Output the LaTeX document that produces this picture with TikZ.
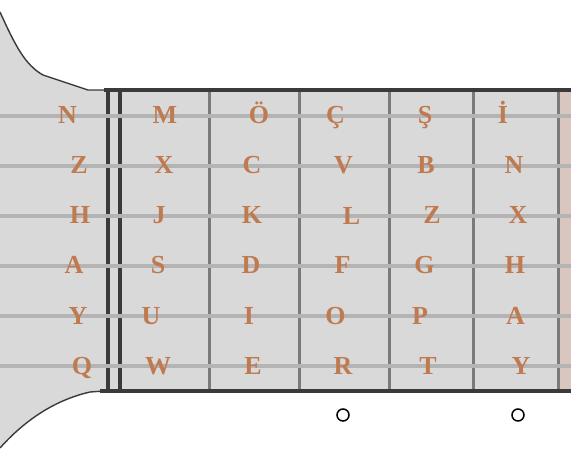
\documentclass[tikz,border=0pt]{standalone}
\usepackage{fontspec}
\setmainfont{Liberation Serif}
\definecolor{boardc}{RGB}{217,217,217}
\definecolor{darkc}{RGB}{58,58,58}
\definecolor{fretc}{RGB}{122,122,122}
\definecolor{stringc}{RGB}{180,180,180}
\definecolor{pinkc}{RGB}{217,198,191}
\definecolor{letc}{RGB}{192,122,80}
\begin{document}
\begin{tikzpicture}[x=1pt,y=-1pt,
  letter/.style={text=letc, font=\fontsize{26}{26}\selectfont\bfseries, inner sep=0pt, anchor=base},
  outline/.style={draw=darkc, line width=1.4pt},
  border/.style={draw=darkc, line width=3.8pt},
  nutline/.style={draw=darkc, line width=3.8pt},
  fretline/.style={draw=fretc, line width=3pt},
  stringline/.style={draw=stringc, line width=4pt},
  marker/.style={circle, draw=black, fill=white, line width=1.5pt, minimum size=12pt, inner sep=0pt}]
\useasboundingbox (0,0) rectangle (571,475);
% headstock
\fill[boardc] (0,12) .. controls (15,45) and (25,65) .. (43,75) -- (88,90) -- (104,90) -- (104,391) -- (90,392) .. controls (55,400) and (25,420) .. (0,448) -- cycle;
\draw[outline] (0,12) .. controls (15,45) and (25,65) .. (43,75) -- (88,90) -- (104,90);
\draw[outline] (104,391) -- (90,392) .. controls (55,400) and (25,420) .. (0,448);
% fretboard
\fill[boardc] (104,90) rectangle (571,391);
\fill[pinkc] (559,92) rectangle (571,390);
% frets
\foreach \fx in {209,299,389,473,558} \draw[fretline] (\fx,90) -- (\fx,391);
% nut
\draw[nutline] (108,90) -- (108,391);
\draw[nutline] (120,90) -- (120,391);
% borders
\draw[border] (104,90) -- (571,90);
\draw[border] (100,391) -- (571,391);
% strings
\foreach \sy in {116,166,216,266,316,366} \draw[stringline] (0,\sy) -- (571,\sy);
% letters row 1
\node[letter] (a1) at (67.5,123) {N};
\node[letter] (a2) at (165,123) {M};
\node[letter] (a3) at (259,123) {Ö};
\node[letter] (a4) at (335.5,123) {Ç};
\node[letter] (a5) at (425,123) {Ş};
\node[letter] (a6) at (503,123) {İ};
% row 2
\node[letter] (b1) at (79,173) {Z};
\node[letter] (b2) at (164,173) {X};
\node[letter] (b3) at (252,173) {C};
\node[letter] (b4) at (343.5,173) {V};
\node[letter] (b5) at (426,173) {B};
\node[letter] (b6) at (514,173) {N};
% row 3
\node[letter] (c1) at (80,223) {H};
\node[letter] (c2) at (159,223) {J};
\node[letter] (c3) at (252,223) {K};
\node[letter] (c4) at (351.5,224) {L};
\node[letter] (c5) at (432,223) {Z};
\node[letter] (c6) at (518,223) {X};
% row 4
\node[letter] (d1) at (74,273.5) {A};
\node[letter] (d2) at (158,273.5) {S};
\node[letter] (d3) at (251,273.5) {D};
\node[letter] (d4) at (342.5,273) {F};
\node[letter] (d5) at (424.5,273.5) {G};
\node[letter] (d6) at (515,273.5) {H};
% row 5
\node[letter] (e1) at (78,324) {Y};
\node[letter] (e2) at (151,324) {U};
\node[letter] (e3) at (249,324) {I};
\node[letter] (e4) at (335.5,324) {O};
\node[letter] (e5) at (420,324) {P};
\node[letter] (e6) at (515.5,324) {A};
% row 6
\node[letter] (f1) at (82,374) {Q};
\node[letter] (f2) at (158,374) {W};
\node[letter] (f3) at (253,374) {E};
\node[letter] (f4) at (343,374) {R};
\node[letter] (f5) at (428,374) {T};
\node[letter] (f6) at (521,374) {Y};
% position markers
\node[marker] (m1) at (343,415) {};
\node[marker] (m2) at (518,415) {};
\end{tikzpicture}
\end{document}
